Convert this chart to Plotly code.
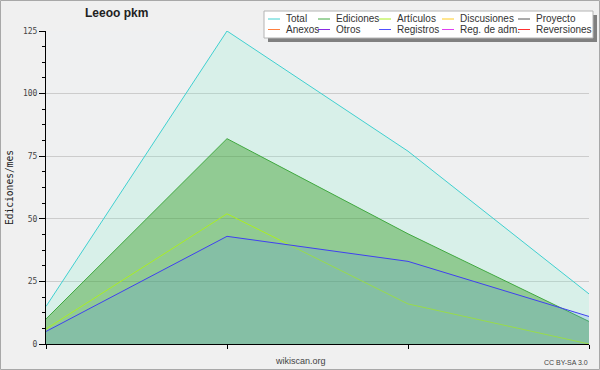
import plotly.graph_objects as go

# ---- data ----
meses = [0, 1, 2, 3]
total = [15, 125, 77, 20]
ediciones = [10, 82, 44, 9]
articulos = [6, 52, 16, 0]
registros = [5, 43, 33, 11]

legend_labels = ["Total", "Ediciones", "Artículos", "Discusiones", "Proyecto",
                 "Anexos", "Otros", "Registros", "Reg. de adm.", "Reversiones"]
legend_colors = ["#40d0d0", "#40a840", "#aaee22", "#ffcc22", "#555555",
                 "#ff8040", "#8a2be2", "#5050ff", "#e040f0", "#ff3030"]

y_ticks = [0, 25, 50, 75, 100, 125]

# ---- layout geometry (pixels) ----
W, H = 600, 370
PL, PT, PW, PH = 46, 31, 543, 313


def px(x):
    return (x - PL) / PW


def py(y):
    return (PT + PH - y) / PH


fig = go.Figure()

series = [
    ("Total", total, "#40d0d0", "rgba(124,240,206,0.2)"),
    ("Ediciones", ediciones, "#40a840", "rgba(41,148,17,0.4)"),
    ("Artículos", articulos, "#aaee22", None),
    ("Registros", registros, "#4040f0", "rgba(86,143,242,0.2)"),
]
for name, vals, col, fillcol in series:
    fig.add_trace(go.Scatter(
        x=meses, y=vals, name=name, mode="lines",
        line=dict(color=col, width=1),
        fill="tozeroy" if fillcol else None,
        fillcolor=fillcol,
        showlegend=False, hoverinfo="skip",
    ))

shapes = []
annotations = []

# outer border
shapes.append(dict(type="rect", xref="paper", yref="paper",
                   x0=px(0.5), x1=px(W - 0.5), y0=py(0.5), y1=py(H - 0.5),
                   line=dict(color="#a8a8a8", width=1), fillcolor="rgba(0,0,0,0)",
                   layer="above"))

# legend box with shadow
shapes.append(dict(type="rect", xref="paper", yref="paper",
                   x0=px(268), x1=px(597), y0=py(15), y1=py(42),
                   line=dict(width=0), fillcolor="#808080", layer="above"))
shapes.append(dict(type="rect", xref="paper", yref="paper",
                   x0=px(264), x1=px(593), y0=py(11), y1=py(38),
                   line=dict(color="#b4b4b4", width=1), fillcolor="#ffffff",
                   layer="above"))

col_line_x = [268, 318, 379, 442, 518]
row_y = [19, 29.5]
for i, (lab, col) in enumerate(zip(legend_labels, legend_colors)):
    r, c = divmod(i, 5)
    x0 = col_line_x[c]
    yy = row_y[r]
    shapes.append(dict(type="line", xref="paper", yref="paper",
                       x0=px(x0), x1=px(x0 + 12), y0=py(yy), y1=py(yy),
                       line=dict(color=col, width=1), layer="above"))
    annotations.append(dict(xref="paper", yref="paper", x=px(x0 + 16), y=py(yy),
                            text=lab, showarrow=False, xanchor="left", yanchor="middle",
                            font=dict(family="Liberation Sans", size=10, color="#333333")))

# title
annotations.append(dict(xref="paper", yref="paper", x=px(116), y=py(13),
                        text="<b>Leeoo pkm</b>", showarrow=False,
                        xanchor="center", yanchor="middle",
                        font=dict(family="Liberation Sans", size=12, color="#222222")))
# footer texts
annotations.append(dict(xref="paper", yref="paper", x=px(300), y=py(361),
                        text="wikiscan.org", showarrow=False,
                        xanchor="center", yanchor="middle",
                        font=dict(family="Liberation Sans", size=9, color="#444444")))
annotations.append(dict(xref="paper", yref="paper", x=px(590), y=py(362),
                        text="CC BY-SA 3.0", showarrow=False,
                        xanchor="right", yanchor="middle",
                        font=dict(family="Liberation Sans", size=7, color="#444444")))

fig.update_layout(
    width=W, height=H,
    margin=dict(l=PL, r=W - PL - PW, t=PT, b=H - PT - PH, pad=0, autoexpand=False),
    paper_bgcolor="#f0f0f0",
    plot_bgcolor="#eff0f1",
    showlegend=False,
    shapes=shapes,
    annotations=annotations,
    xaxis=dict(range=[0, 3], tickvals=meses, showticklabels=False,
               ticks="outside", ticklen=4, tickcolor="#000000",
               showline=True, linecolor="#000000", linewidth=1,
               showgrid=False, zeroline=False, fixedrange=True,
               automargin=False),
    yaxis=dict(range=[0, 125], tickvals=y_ticks,
               ticks="outside", ticklen=6, tickcolor="#000000",
               minor=dict(dtick=6.25, ticks="outside", ticklen=3,
                          tickcolor="#000000", showgrid=False),
               showline=True, linecolor="#000000", linewidth=1,
               showgrid=True, gridcolor="#cccccc", gridwidth=1,
               zeroline=False, automargin=False,
               tickfont=dict(family="DejaVu Sans Mono", size=8, color="#444444"),
               title=dict(text="Ediciones/mes", standoff=7,
                          font=dict(family="DejaVu Sans Mono", size=9.6, color="#222222")),
               fixedrange=True),
)

fig.write_html(
    "out.html",
    config={"displayModeBar": False},
    post_script="document.body.style.margin='0';document.body.style.overflow='hidden';",
)
